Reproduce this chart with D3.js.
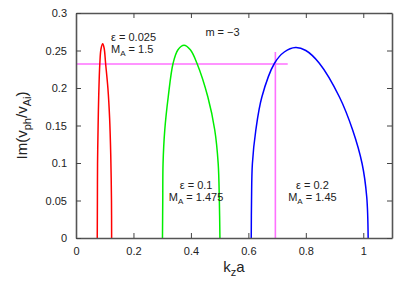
<!DOCTYPE html>
<html>
<head>
<meta charset="utf-8">
<script src="https://cdn.jsdelivr.net/npm/d3@7"></script>
<style>
  body { margin: 0; background: #fff; }
  text { font-family: "Liberation Sans", Arial, sans-serif; fill: #222; }
</style>
</head>
<body>
<script>
// growth rate curves, [kz a, Im(vph/vAi)]
const redCurve = [[0.074,0],[0.0745,0.05],[0.075,0.099],[0.077,0.15],[0.079,0.188],[0.083,0.233],[0.087,0.252],[0.093,0.259],[0.098,0.253],[0.103,0.233],[0.111,0.2],[0.117,0.16],[0.121,0.11],[0.1235,0.05],[0.124,0]];
const greenCurve = [[0.301,0],[0.302,0.05],[0.303,0.099],[0.309,0.144],[0.321,0.188],[0.338,0.233],[0.355,0.251],[0.376,0.257],[0.398,0.251],[0.421,0.233],[0.459,0.188],[0.483,0.144],[0.495,0.099],[0.499,0.05],[0.501,0]];
const blueCurve = [[0.61,0],[0.611,0.05],[0.614,0.099],[0.626,0.144],[0.647,0.188],[0.691,0.233],[0.725,0.248],[0.764,0.254],[0.80,0.250],[0.847,0.233],[0.917,0.188],[0.963,0.144],[0.996,0.099],[1.012,0.055],[1.017,0]];
const hLine = [[0, 0.232], [0.737, 0.232]];
const vLine = [[0.694, 0], [0.694, 0.248]];
const xTicks = [0, 0.2, 0.4, 0.6, 0.8, 1];
const yTicks = [0, 0.05, 0.1, 0.15, 0.2, 0.25, 0.3];
const labels = [
  {x: 0.122, y: 0.263, eps: "0.025", ma: "1.5", anchor: "start"},
  {x: 0.418, y: 0.065, eps: "0.1", ma: "1.475", anchor: "middle"},
  {x: 0.823, y: 0.065, eps: "0.2", ma: "1.45", anchor: "middle"}
];

const width = 409, height = 286;
const margin = {left: 76, right: 17, top: 13, bottom: 48};

const svg = d3.select("body").append("svg")
  .attr("width", width).attr("height", height);

const x = d3.scaleLinear().domain([0, 1.1]).range([margin.left, width - margin.right]);
const y = d3.scaleLinear().domain([0, 0.3]).range([height - margin.bottom, margin.top]);

const line = d3.line().x(d => x(d[0])).y(d => y(d[1])).curve(d3.curveCatmullRom);
const straight = d3.line().x(d => x(d[0])).y(d => y(d[1]));

// magenta markers
svg.append("path").attr("d", straight(hLine)).attr("stroke", "#ff70ff").attr("stroke-width", 1.6).attr("fill", "none");
svg.append("path").attr("d", straight(vLine)).attr("stroke", "#ff70ff").attr("stroke-width", 1.6).attr("fill", "none");

[[redCurve, "#ff0000"], [greenCurve, "#00ee00"], [blueCurve, "#0000ff"]].forEach(([c, col]) => {
  svg.append("path").attr("d", line(c)).attr("stroke", col).attr("stroke-width", 1.5).attr("fill", "none");
});

// axes with inward ticks
const gx = svg.append("g").attr("transform", `translate(0,${y(0)})`)
  .call(d3.axisBottom(x).tickValues(xTicks).tickSizeInner(-5).tickSizeOuter(0).tickPadding(9).tickFormat(d3.format("")));
const gxt = svg.append("g").attr("transform", `translate(0,${y(0.3)})`)
  .call(d3.axisTop(x).tickValues(xTicks).tickSizeInner(-5).tickSizeOuter(0).tickFormat(""));
const gy = svg.append("g").attr("transform", `translate(${x(0)},0)`)
  .call(d3.axisLeft(y).tickValues(yTicks).tickSizeInner(-5).tickSizeOuter(0).tickPadding(9).tickFormat(d3.format("")));
const gyr = svg.append("g").attr("transform", `translate(${x(1.1)},0)`)
  .call(d3.axisRight(y).tickValues(yTicks).tickSizeInner(-5).tickSizeOuter(0).tickFormat(""));

[gx, gxt, gy, gyr].forEach(g => {
  g.select(".domain").attr("stroke", "#555").attr("stroke-width", 1.6);
  g.selectAll(".tick line").attr("stroke", "#444");
  g.selectAll("text").attr("font-size", 11).attr("font-family", "Liberation Sans, Arial, sans-serif").attr("fill", "#222");
});

// annotations
svg.append("text").attr("x", x(0.51)).attr("y", 36).attr("text-anchor", "middle")
  .attr("font-size", 11).text("m = \u22123");

labels.forEach(l => {
  svg.append("text").attr("x", x(l.x)).attr("y", y(l.y)).attr("text-anchor", l.anchor)
    .attr("font-size", 11).text("\u03b5 = " + l.eps);
  const t = svg.append("text").attr("x", x(l.x)).attr("y", y(l.y) + 12).attr("text-anchor", l.anchor)
    .attr("font-size", 11);
  t.append("tspan").text("M");
  t.append("tspan").attr("font-size", 8).attr("dy", 3).text("A");
  t.append("tspan").attr("dy", -3).text(" = " + l.ma);
});

// axis titles
const xl = svg.append("text").attr("x", x(0.55)).attr("y", 272).attr("text-anchor", "middle").attr("font-size", 15);
xl.append("tspan").text("k");
xl.append("tspan").attr("font-size", 11).attr("dy", 4).text("z");
xl.append("tspan").attr("dy", -4).text("a");

const yl = svg.append("text").attr("transform", `translate(27,${y(0.15)}) rotate(-90)`)
  .attr("text-anchor", "middle").attr("font-size", 15);
yl.append("tspan").text("Im(v");
yl.append("tspan").attr("font-size", 11).attr("dy", 4).text("ph");
yl.append("tspan").attr("dy", -4).text("/v");
yl.append("tspan").attr("font-size", 11).attr("dy", 4).text("Ai");
yl.append("tspan").attr("dy", -4).text(")");
</script>
</body>
</html>
